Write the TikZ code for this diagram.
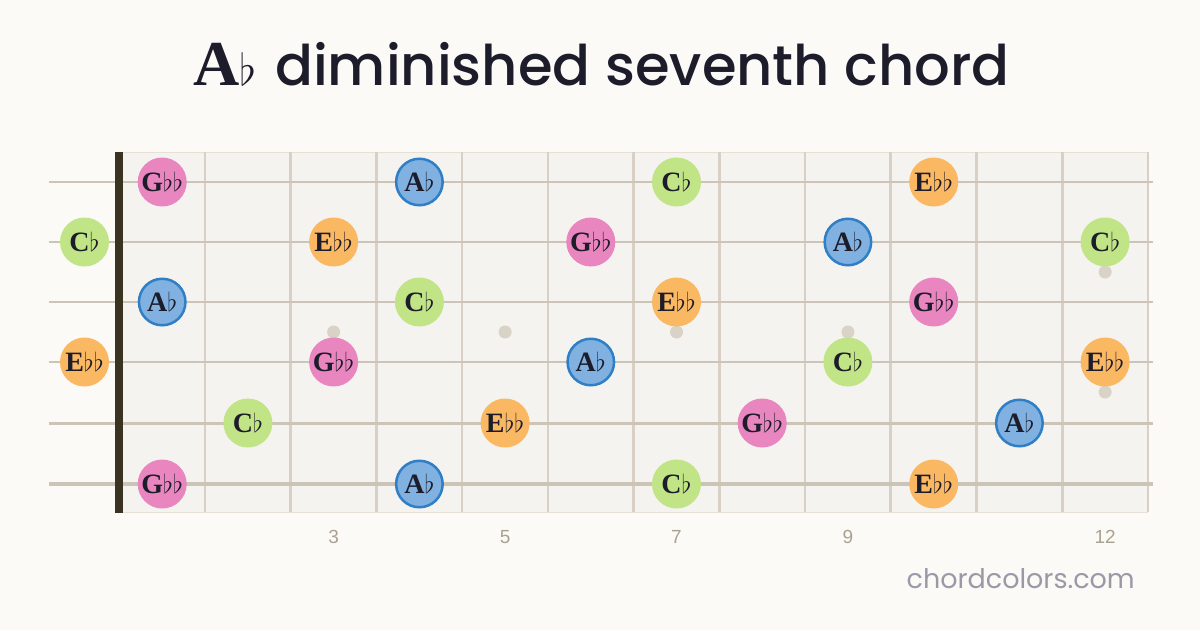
\RequirePackage{fix-cm}
\documentclass[tikz,border=0pt]{standalone}
\usepackage{fontspec}
\setmainfont{Liberation Serif}
\newfontfamily\titlesans{Poppins}[UprightFont=* Medium]
\newfontfamily\uisans{Poppins}
\newfontfamily\numsans{Liberation Sans}
\definecolor{pagebg}{HTML}{FBFAF7}
\definecolor{boardbg}{HTML}{F5F3EF}
\definecolor{boardedge}{HTML}{E6E0D6}
\definecolor{fretc}{HTML}{D8D0C4}
\definecolor{stringc}{HTML}{CCC4B7}
\definecolor{nutc}{HTML}{3A3322}
\definecolor{dotc}{HTML}{D9D2C6}
\definecolor{inkc}{HTML}{1D1C2A}
\definecolor{numc}{HTML}{A9A292}
\definecolor{sitec}{HTML}{9A9AA6}
\definecolor{gbbc}{HTML}{E985BF}
\definecolor{abfill}{HTML}{80B1E0}
\definecolor{abedge}{HTML}{2F7EC6}
\definecolor{cbc}{HTML}{C1E586}
\definecolor{ebbc}{HTML}{FBB862}
\newcommand\myflat{{\fontsize{26}{26}\selectfont$\flat$}}
\newcommand\lblgbb{\textbf{G}\myflat\myflat}
\newcommand\lblab{\textbf{A}\myflat}
\newcommand\lblcb{\textbf{C}\myflat}
\newcommand\lblebb{\textbf{E}\myflat\myflat}
\begin{document}
\begin{tikzpicture}[x=1pt,y=-1pt,
  notebase/.style={circle,minimum size=49pt,inner sep=0pt,text=inkc,
    font=\fontsize{28}{28}\selectfont},
  gbb/.style={fill=gbbc},
  ab/.style={fill=abfill,draw=abedge,line width=2.5pt,minimum size=46.5pt},
  cb/.style={fill=cbc},
  ebb/.style={fill=ebbc},
  fretline/.style={draw=fretc,line width=2.6pt},
  stringline/.style={draw=stringc},
  inlay/.style={circle,fill=dotc,minimum size=13pt,inner sep=0pt},
  fretnum/.style={text=numc,font=\numsans\fontsize{19}{19}\selectfont,anchor=base,inner sep=0pt}
]
\useasboundingbox[fill=pagebg] (0,0) rectangle (1200,630);
% board
\path[fill=boardbg,draw=boardedge,line width=1pt] (115,152) rectangle (1147,512);
% frets
\foreach \k in {1,...,12}{
  \coordinate (ft\k) at ({119.3+85.72*\k},152);
  \coordinate (fb\k) at ({119.3+85.72*\k},512);
  \draw[fretline] (ft\k) -- (fb\k);
}
% inlays
\foreach \x/\y/\id in {333.6/332/i3,505.1/332/i5,676.5/332/i7,847.9/332/i9,1105.1/272/i12a,1105.1/392/i12b}{
  \node[inlay] (\id) at (\x,\y) {};
}
% strings
\foreach \y/\w/\id in {182/1.8/1,242/2.1/2,302/2.4/3,362/2.7/4,423/3.0/5,484/3.3/6}{
  \coordinate (sl\id) at (49,\y);
  \coordinate (sr\id) at (1153,\y);
  \draw[stringline,line width=\w pt] (sl\id) -- (sr\id);
}
% nut
\path[fill=nutc] (115,152) rectangle (123,513);
% notes
\foreach \x/\y/\kind/\id in {
  162.2/182/gbb/n1a, 419.4/182/ab/n1b, 676.5/182/cb/n1c, 933.7/182/ebb/n1d,
  84.5/242/cb/n2a, 333.6/242/ebb/n2b, 590.8/242/gbb/n2c, 847.9/242/ab/n2d, 1105.1/242/cb/n2e,
  162.2/302/ab/n3a, 419.4/302/cb/n3b, 676.5/302/ebb/n3c, 933.7/302/gbb/n3d,
  84.5/362/ebb/n4a, 333.6/362/gbb/n4b, 590.8/362/ab/n4c, 847.9/362/cb/n4d, 1105.1/362/ebb/n4e,
  247.9/423/cb/n5a, 505.1/423/ebb/n5b, 762.2/423/gbb/n5c, 1019.4/423/ab/n5d,
  162.2/484/gbb/n6a, 419.4/484/ab/n6b, 676.5/484/cb/n6c, 933.7/484/ebb/n6d}{
  \node[notebase,\kind] (\id) at (\x,\y) {\csname lbl\kind\endcsname};
}
% fret numbers
\foreach \x/\t in {333.6/3,505.1/5,676.5/7,847.9/9,1105.1/12}{
  \node[fretnum] (num\t) at (\x,543.5) {\t};
}
% title
\node[anchor=base west,text=inkc,inner sep=0pt] (titleA) at (193,85)
  {\fontsize{64}{64}\selectfont\bfseries A{\fontsize{44}{44}\selectfont$\flat$}};
\node[anchor=base east,text=inkc,inner sep=0pt] (titleB) at (1010,85)
  {\titlesans\fontsize{56}{56}\selectfont diminished seventh chord};
% footer
\node[anchor=base east,text=sitec,inner sep=0pt] (site) at (1135,588)
  {\uisans\fontsize{27}{27}\selectfont chordcolors.com};
\end{tikzpicture}
\end{document}
